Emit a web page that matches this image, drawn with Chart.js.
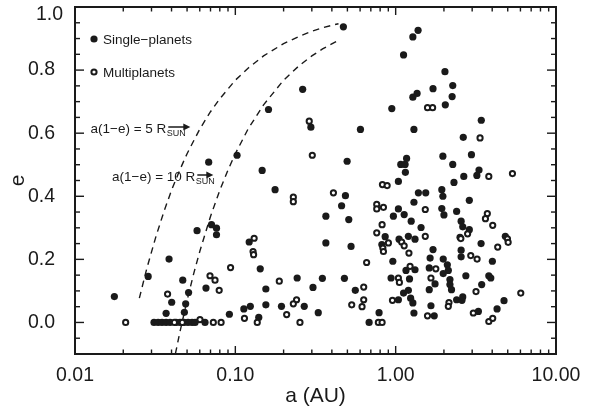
<!DOCTYPE html>
<html><head><meta charset="utf-8">
<script src="https://cdn.jsdelivr.net/npm/chart.js@4.4.1/dist/chart.umd.min.js"></script>
<style>html,body{margin:0;padding:0;background:#fff}#wrap{width:593px;height:411px}</style>
</head><body><div id="wrap"><canvas id="c" width="593" height="411"></canvas></div>
<script>
// Single-planet systems (filled circles): semi-major axis a (AU) and eccentricity e
const singleA = [0.0176,0.0286,0.0386,0.0401,0.0370,0.0470,0.0511,0.0490,0.0481,0.0577,
0.0311,0.0330,0.0349,0.0370,0.0392,0.0427,0.0452,0.0479,0.0507,0.0537,0.0561,0.0647,
0.0918,0.0710,0.0763,0.0763,0.0656,0.113,0.124,0.140,0.122,0.143,0.1025,0.0682,0.147,0.161,
0.177,0.263,0.296,0.243,0.349,0.479,0.155,0.305,0.560,0.155,0.194,0.269,0.329,0.472,
0.603,0.498,0.486,0.460,0.510,0.367,0.367,0.527,0.683,0.788,0.968,0.860,0.820,1.05,
0.960,0.936,1.04,0.946,1.076,1.145,1.17,1.15,1.04,1.386,1.54,1.30,1.04,1.13,1.25,1.44,
1.20,1.32,1.64,1.71,1.16,1.32,1.62,1.22,1.12,1.20,1.24,1.28,1.62,1.30,1.66,1.74,1.76,
1.38,1.28,1.12,1.36,1.28,1.30,1.71,2.03,2.27,2.25,2.04,3.42,2.64,1.97,2.97,2.27,3.31,
3.21,2.66,2.31,1.94,1.97,2.88,1.94,2.00,2.40,2.56,2.62,2.88,2.52,4.83,3.41,2.56,2.56,
4.01,1.98,2.10,2.13,1.98,2.74,3.81,3.92,2.18,2.18,2.23,3.44,4.74,2.40,2.59,2.62,4.29,3.28];
const singleE = [0.082,0.146,0.201,0.064,0.029,0.134,0.095,0.059,0.032,0.291,
0,0,0,0,0,0,0,0,0,0,0,0,
0.026,0.310,0.299,0.278,0.109,0.043,0.051,0.016,0.255,0.170,0.530,0.508,0.482,0.675,
0.421,0.739,0.619,0.141,0.140,0.140,0.106,0.111,0.102,0.056,0.051,0.051,0.031,0.937,
0.612,0.511,0.402,0.370,0.326,0.337,0.252,0.241,0.0,0.031,0.337,0.272,0.247,0.264,
0.194,0.141,0.072,0.678,0.501,0.501,0.520,0.476,0.447,0.411,0.411,0.381,0.360,0.342,0.321,0.301,
0.273,0.264,0.204,0.231,0.165,0.167,0.173,0.138,0.093,0.102,0.077,0.062,0.104,0.030,0.053,0.021,0.122,
0.926,0.905,0.848,0.726,0.714,0.612,0.741,0.795,0.751,0.716,0.690,0.641,0.587,0.527,0.532,0.501,0.483,
0.466,0.463,0.444,0.421,0.400,0.387,0.361,0.341,0.352,0.321,0.303,0.294,0.270,0.273,0.250,0.229,0.208,
0.194,0.201,0.183,0.165,0.155,0.148,0.148,0.141,0.136,0.120,0.104,0.120,0.069,0.072,0.070,0.081,0.043,0.035];

// Multiplanet systems (open circles)
const multiA = [0.0207,0.0378,0.0417,0.0467,0.0602,0.0729,0.0815,0.0934,0.0695,0.0747,0.0793,
0.114,0.137,0.131,0.129,0.130,0.230,0.230,0.289,0.302,0.188,0.632,0.632,0.617,0.532,0.241,
0.230,0.209,0.253,0.409,0.659,0.780,0.823,0.762,0.762,0.839,0.823,0.762,0.832,0.839,0.901,
1.04,1.055,0.955,0.827,0.885,1.53,1.53,1.09,1.13,1.21,1.23,1.66,1.58,1.78,1.58,1.70,
3.36,3.81,5.35,3.73,3.63,4.03,2.81,4.98,5.03,2.55,4.33,2.94,3.22,3.17,6.03,2.15,2.13,
3.05,3.81,4.03];
const multiE = [0,0.090,0,0,0.009,0,0,0.174,0.148,0.134,0.102,
0.013,0,0.267,0.225,0.215,0.397,0.383,0.638,0.530,0.131,0.112,0.072,0.050,0.056,0.072,
0.059,0.025,0,0.411,0.190,0,0,0.374,0.360,0.365,0.310,0.284,0.236,0.225,0.252,
0.141,0.127,0.070,0.437,0.434,0.358,0.273,0.255,0.243,0.220,0.178,0.141,0.021,0.170,0.681,0.681,
0.585,0.463,0.472,0.345,0.329,0.308,0.281,0.265,0.254,0.266,0.239,0.212,0.201,0.098,0.093,0.063,0.051,
0.030,0.003,0.013];

// Periastron-distance curves a(1-e) = 5 R_sun and 10 R_sun
const curve5A  = [0.0252,0.028,0.032,0.036,0.04,0.045,0.05,0.06,0.07,0.08,0.1,0.12,0.15,0.2,0.25,0.3,0.35,0.4,0.44];
const curve5E  = [0.077,0.170,0.273,0.354,0.419,0.483,0.535,0.613,0.668,0.709,0.768,0.806,0.845,0.884,0.907,0.923,0.934,0.942,0.947];
const curve10A = [0.0423,0.045,0.05,0.055,0.06,0.07,0.08,0.09,0.1,0.12,0.15,0.2,0.25,0.3,0.35,0.43];
const curve10E = [-0.099,-0.033,0.070,0.155,0.225,0.336,0.419,0.483,0.535,0.613,0.690,0.768,0.814,0.845,0.867,0.892];

const xTickValues = [0.01,0.1,1,10];
const xTickLabels = ['0.01','0.10','1.00','10.00'];
const xMinorValues = [0.02,0.03,0.04,0.05,0.06,0.07,0.08,0.09,0.2,0.3,0.4,0.5,0.6,0.7,0.8,0.9,2,3,4,5,6,7,8,9];
const yTickValues = [0,0.2,0.4,0.6,0.8,1.0];
const yTickLabels = ['0.0','0.2','0.4','0.6','0.8','1.0'];
const yMinorValues = [-0.05,0.05,0.1,0.15,0.25,0.3,0.35,0.45,0.5,0.55,0.65,0.7,0.75,0.85,0.9,0.95];

const FONT = '"Liberation Sans", Arial, Helvetica, sans-serif';
const INK = '#1a1a1a';
const TICK_FONT = 19.5;
const pts = (xs, ys) => xs.map((v,i)=>({x:v, y:ys[i]}));

const frame = {
  id:'frame',
  afterDatasetsDraw(chart){
    const {ctx, chartArea:ca, scales:{x,y}} = chart;
    ctx.save();
    ctx.strokeStyle = INK;
    const seg=(x1,y1,x2,y2)=>{ctx.beginPath();ctx.moveTo(x1,y1);ctx.lineTo(x2,y2);ctx.stroke();};
    ctx.lineWidth = 1.4;
    xTickValues.forEach(v=>{const p=x.getPixelForValue(v); seg(p,ca.bottom,p,ca.bottom-8); seg(p,ca.top,p,ca.top+8);});
    xMinorValues.forEach(v=>{const p=x.getPixelForValue(v); seg(p,ca.bottom,p,ca.bottom-4.5); seg(p,ca.top,p,ca.top+4.5);});
    yTickValues.forEach(v=>{const p=y.getPixelForValue(v); seg(ca.left,p,ca.left+9,p); seg(ca.right,p,ca.right-9,p);});
    yMinorValues.forEach(v=>{const p=y.getPixelForValue(v); seg(ca.left,p,ca.left+5,p); seg(ca.right,p,ca.right-5,p);});
    ctx.lineWidth = 2;
    ctx.strokeRect(ca.left, ca.top, ca.right-ca.left, ca.bottom-ca.top);

    // top y label kept inside the canvas (as in the original figure)
    ctx.fillStyle = INK;
    ctx.font = TICK_FONT + 'px ' + FONT;
    ctx.textAlign = 'right'; ctx.textBaseline = 'middle';
    const last = yTickValues.length - 1;
    ctx.fillText(yTickLabels[last], ca.left - 12, y.getPixelForValue(yTickValues[last]) + 7.5);

    // legend
    const lx = ca.left + 19;
    ctx.beginPath(); ctx.arc(lx, ca.top+32, 3.6, 0, Math.PI*2); ctx.fill();
    ctx.lineWidth = 2;
    ctx.beginPath(); ctx.arc(lx, ca.top+65, 2.6, 0, Math.PI*2); ctx.stroke();
    ctx.font = '13.5px ' + FONT;
    ctx.textBaseline = 'middle'; ctx.textAlign = 'left';
    ctx.fillText('Single\u2212planets', lx+9, ca.top+33);
    ctx.fillText('Multiplanets', lx+9, ca.top+66);

    // annotations
    const annot = (tx, ty, main, arrowLen) => {
      ctx.font = '13.5px ' + FONT;
      ctx.textBaseline = 'middle';
      ctx.fillText(main, tx, ty);
      const w = ctx.measureText(main).width;
      ctx.font = '9px ' + FONT;
      ctx.fillText('SUN', tx + w + 0.5, ty + 4);
      const sx = tx + w + 2, ay = ty - 2.5;
      ctx.lineWidth = 1.5;
      seg(sx, ay, sx + arrowLen - 5, ay);
      ctx.beginPath(); ctx.moveTo(sx + arrowLen, ay); ctx.lineTo(sx + arrowLen - 7, ay - 3.5); ctx.lineTo(sx + arrowLen - 7, ay + 3.5); ctx.closePath(); ctx.fill();
    };
    annot(ca.left + 15.5, ca.top + 122.5, 'a(1\u2212e) = 5 R', 22);
    annot(ca.left + 37, ca.top + 170.5, 'a(1\u2212e) = 10 R', 16);
    ctx.restore();
  }
};

new Chart(document.getElementById('c'), {
  type:'scatter',
  data:{datasets:[
    {label:'Single-planets', data:pts(singleA,singleE), pointRadius:3.6, pointHoverRadius:3.6, backgroundColor:INK, borderWidth:0, order:2},
    {label:'Multiplanets', data:pts(multiA,multiE), pointRadius:2.6, pointHoverRadius:2.6, backgroundColor:'#fff', borderColor:INK, borderWidth:2, order:1},
    {label:'5 Rsun', data:pts(curve5A,curve5E), showLine:true, pointRadius:0, borderColor:INK, borderWidth:1.4, borderDash:[6.5,5], fill:false, order:3},
    {label:'10 Rsun', data:pts(curve10A,curve10E), showLine:true, pointRadius:0, borderColor:INK, borderWidth:1.4, borderDash:[6.5,5], fill:false, order:3}
  ]},
  options:{
    responsive:false, animation:false, devicePixelRatio:1,
    layout:{padding:{top:7, right:37, left:0, bottom:0}},
    plugins:{legend:{display:false}, tooltip:{enabled:false}},
    scales:{
      x:{type:'logarithmic', min:0.01, max:10,
        grid:{display:false}, border:{display:false},
        afterBuildTicks:s=>{s.ticks = xTickValues.map(v=>({value:v}));},
        afterFit:s=>{s.height=57; s.paddingLeft=0; s.paddingRight=0;},
        ticks:{autoSkip:false, maxRotation:0, padding:2, color:INK, font:{family:FONT, size:TICK_FONT},
          callback:(v,i)=>xTickLabels[i]},
        title:{display:true, text:'a (AU)', color:INK, font:{family:FONT, size:21}, padding:{top:0,bottom:2.5}}
      },
      y:{type:'linear', min:-0.1, max:1.0,
        grid:{display:false}, border:{display:false},
        afterBuildTicks:s=>{s.ticks = yTickValues.map(v=>({value:v}));},
        afterFit:s=>{s.width=75; s.paddingTop=0; s.paddingBottom=0;},
        ticks:{autoSkip:false, padding:12, color:INK, font:{family:FONT, size:TICK_FONT},
          callback:(v,i)=> i === yTickValues.length-1 ? '' : yTickLabels[i]},
        title:{display:true, text:'e', color:INK, font:{family:FONT, size:21}, padding:{top:5.5,bottom:0}}
      }
    }
  },
  plugins:[frame]
});
</script></body></html>
